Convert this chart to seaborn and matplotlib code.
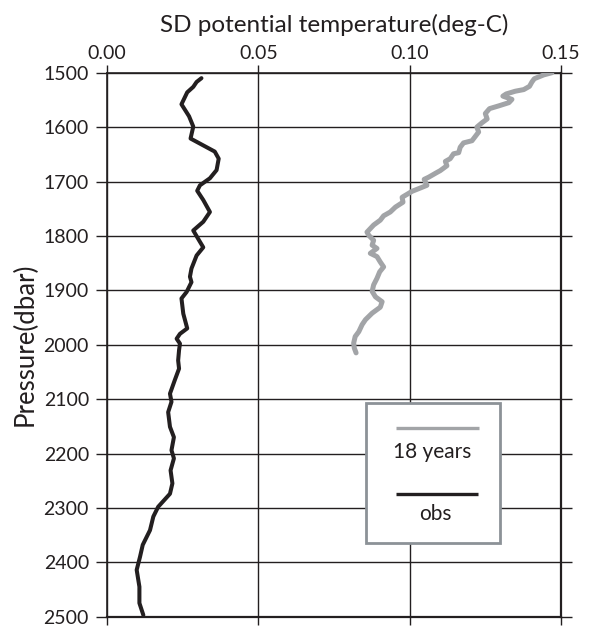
import numpy as np
import pandas as pd
import seaborn as sns
import matplotlib
matplotlib.use("Agg")
import matplotlib.pyplot as plt
from matplotlib.patches import Rectangle

# Standard deviation of potential temperature (deg-C) against pressure (dbar)
obs_sd = [0.0312, 0.0296, 0.0285, 0.0265, 0.0246, 0.0271, 0.0285, 0.0276, 0.0356, 0.0369,
          0.0362, 0.0340, 0.0307, 0.0298, 0.0318, 0.0340, 0.0318, 0.0285, 0.0304, 0.0318,
          0.0296, 0.0279, 0.0274, 0.0279, 0.0263, 0.0246, 0.0252, 0.0265, 0.0241, 0.0230,
          0.0241, 0.0238, 0.0235, 0.0238, 0.0224, 0.0208, 0.0213, 0.0202, 0.0208, 0.0221,
          0.0213, 0.0221, 0.0210, 0.0216, 0.0208, 0.0169, 0.0153, 0.0142, 0.0118, 0.0109,
          0.0098, 0.0107, 0.0107, 0.0120]
obs_p = [1510, 1517, 1526, 1536, 1558, 1580, 1599, 1621, 1645, 1658,
         1679, 1694, 1707, 1717, 1734, 1756, 1774, 1790, 1808, 1821,
         1836, 1860, 1875, 1885, 1903, 1915, 1943, 1970, 1980, 1989,
         1998, 2010, 2029, 2044, 2065, 2090, 2105, 2124, 2151, 2170,
         2194, 2209, 2231, 2255, 2274, 2298, 2316, 2341, 2368, 2390,
         2414, 2445, 2475, 2497]

yr18_sd = [0.1470, 0.1443, 0.1412, 0.1404, 0.1396, 0.1377, 0.1349, 0.1319, 0.1308, 0.1338,
           0.1328, 0.1294, 0.1264, 0.1250, 0.1256, 0.1239, 0.1222, 0.1228, 0.1217, 0.1206,
           0.1178, 0.1167, 0.1162, 0.1145, 0.1134, 0.1118, 0.1123, 0.1101, 0.1088, 0.1063,
           0.1048, 0.1057, 0.1035, 0.1008, 0.0993, 0.0975, 0.0978, 0.0953, 0.0936, 0.0914,
           0.0903, 0.0881, 0.0859, 0.0865, 0.0881, 0.0876, 0.0892, 0.0870, 0.0892, 0.0903,
           0.0914, 0.0901, 0.0892, 0.0881, 0.0876, 0.0887, 0.0909, 0.0903, 0.0876, 0.0854,
           0.0843, 0.0832, 0.0820, 0.0815, 0.0817, 0.0823]
yr18_p = [1500, 1504, 1511, 1517, 1525, 1531, 1534, 1539, 1543, 1549,
          1555, 1561, 1566, 1575, 1585, 1592, 1600, 1609, 1617, 1625,
          1629, 1637, 1647, 1649, 1658, 1663, 1671, 1680, 1684, 1692,
          1696, 1707, 1712, 1718, 1723, 1729, 1738, 1747, 1756, 1763,
          1771, 1780, 1793, 1799, 1808, 1817, 1823, 1832, 1838, 1848,
          1857, 1866, 1878, 1890, 1902, 1912, 1921, 1931, 1942, 1954,
          1963, 1976, 1985, 1997, 2006, 2015]

x_ticks = [0.00, 0.05, 0.10, 0.15]
x_ticklabels = ["0.00", "0.05", "0.10", "0.15"]
y_ticks = list(range(1500, 2501, 100))

sns.set_theme(style="white")
plt.rcParams["font.family"] = ["Lato", "DejaVu Sans"]

BLACK = "#231f20"
GRAY = "#a2a4a7"

fig = plt.figure(figsize=(5.90, 6.28), dpi=100)
ax = fig.add_axes([0.1814, 0.018, 0.7694, 0.8662])

df_obs = pd.DataFrame({"sd": obs_sd, "p": obs_p})
df_18 = pd.DataFrame({"sd": yr18_sd, "p": yr18_p})
sns.lineplot(data=df_18, x="sd", y="p", sort=False, estimator=None,
             color=GRAY, lw=3.6, ax=ax, zorder=3)
sns.lineplot(data=df_obs, x="sd", y="p", sort=False, estimator=None,
             color=BLACK, lw=2.9, ax=ax, zorder=4)

ax.set_xlim(0, 0.15)
ax.set_ylim(2500, 1500)
ax.set_xticks(x_ticks)
ax.set_xticklabels(x_ticklabels)
ax.set_yticks(y_ticks)
ax.xaxis.tick_top()
ax.xaxis.set_label_position("top")
ax.tick_params(axis="x", which="both", top=True, bottom=True, direction="out",
               length=6, width=1.0, color=BLACK, labelsize=14, pad=2,
               labelcolor=BLACK)
ax.tick_params(axis="y", which="both", left=True, right=True, direction="out",
               length=8, width=1.0, color=BLACK, labelsize=14, pad=5,
               labelcolor=BLACK)
ax.grid(True, color=BLACK, lw=1.0)
ax.set_axisbelow(True)
for s in ax.spines.values():
    s.set_color(BLACK)
    s.set_linewidth(1.6)
    s.set_visible(True)
ax.spines["top"].set_linewidth(1.2)
ax.spines["left"].set_linewidth(1.2)

ax.set_xlabel("SD potential temperature(deg-C)", fontsize=17.5, color=BLACK, labelpad=9)
ax.set_ylabel("Pressure(dbar)", fontsize=18.5, color=BLACK, labelpad=4)

# key box with line samples placed above their labels
tr = ax.transAxes
ax.add_patch(Rectangle((0.571, 0.136), 0.294, 0.257, transform=tr,
                       facecolor="white", edgecolor="#8c9297", lw=2.0, zorder=6))
ax.plot([0.637, 0.820], [0.347, 0.347], transform=tr, color=GRAY, lw=2.4,
        solid_capstyle="butt", zorder=7)
ax.text(0.716, 0.303, "18 years", transform=tr, ha="center", va="center",
        fontsize=15, color=BLACK, zorder=7)
ax.plot([0.637, 0.817], [0.226, 0.226], transform=tr, color=BLACK, lw=2.4,
        solid_capstyle="butt", zorder=7)
ax.text(0.724, 0.188, "obs", transform=tr, ha="center", va="center",
        fontsize=15, color=BLACK, zorder=7)

fig.savefig("out.png", dpi=100)
